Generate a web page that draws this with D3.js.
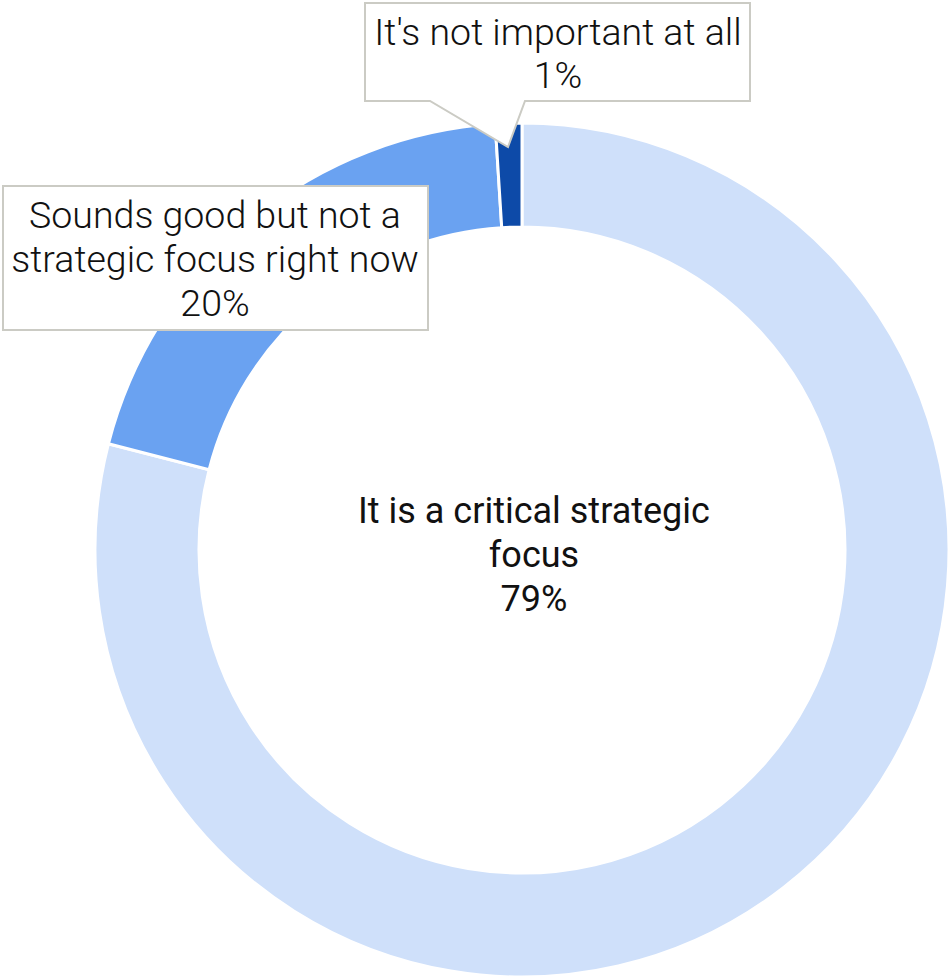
<!DOCTYPE html>
<html><head><meta charset="utf-8">
<script src="https://cdn.jsdelivr.net/npm/d3@7"></script>
<style>body{margin:0;background:#fff}svg{display:block}</style>
</head><body>
<svg id="c" width="952" height="976"></svg>
<script>
const categories = ["It is a critical strategic focus", "Sounds good but not a strategic focus right now", "It's not important at all"];
const values = [79, 20, 1];
const colors = ["#cfe0fa", "#6aa2f1", "#0d4aa8"];
const labelLines = [["It is a critical strategic", "focus", "79%"], ["Sounds good but not a", "strategic focus right now", "20%"], ["It's not important at all", "1%"]];

const svg = d3.select("#c");
const cx = 522, cy = 550, R = 427, r = 323;
const g = svg.append("g").attr("transform", `translate(${cx},${cy})`);
const pie = d3.pie().sort(null).value(d => d.v);
const arcs = pie(values.map((v, i) => ({v, i})));
const arc = d3.arc().innerRadius(r).outerRadius(R);
g.selectAll("path").data(arcs).enter().append("path")
  .attr("d", arc).attr("fill", d => colors[d.data.i])
  .attr("stroke", "#fff").attr("stroke-width", 3);

const font = "Roboto";
function lines(sel, arr, x, y0, lh, weight, size) {
  const t = sel.append("text").attr("text-anchor", "middle").attr("font-family", font)
    .attr("font-weight", weight).attr("font-size", size).attr("fill", "#111");
  arr.forEach((s, k) => t.append("tspan").attr("x", x).attr("y", y0 + k * lh).text(s));
  return t;
}
// center label
lines(svg, labelLines[0], 534, 523, 44, 400, 36);

// callout 20%
svg.append("rect").attr("x", 3).attr("y", 186).attr("width", 425).attr("height", 144)
  .attr("fill", "#fff").attr("stroke", "#cbcbc4").attr("stroke-width", 2);
lines(svg, labelLines[1], 215, 228, 44, 300, 37.5);

// callout 1%
svg.append("path").attr("d", "M365,3 H750 V101 H525 L508,147 L430,101 H365 Z")
  .attr("fill", "#fff").attr("stroke", "#cbcbc4").attr("stroke-width", 2);
lines(svg, labelLines[2], 558, 45, 43, 300, 37.5);
</script>
</body></html>
